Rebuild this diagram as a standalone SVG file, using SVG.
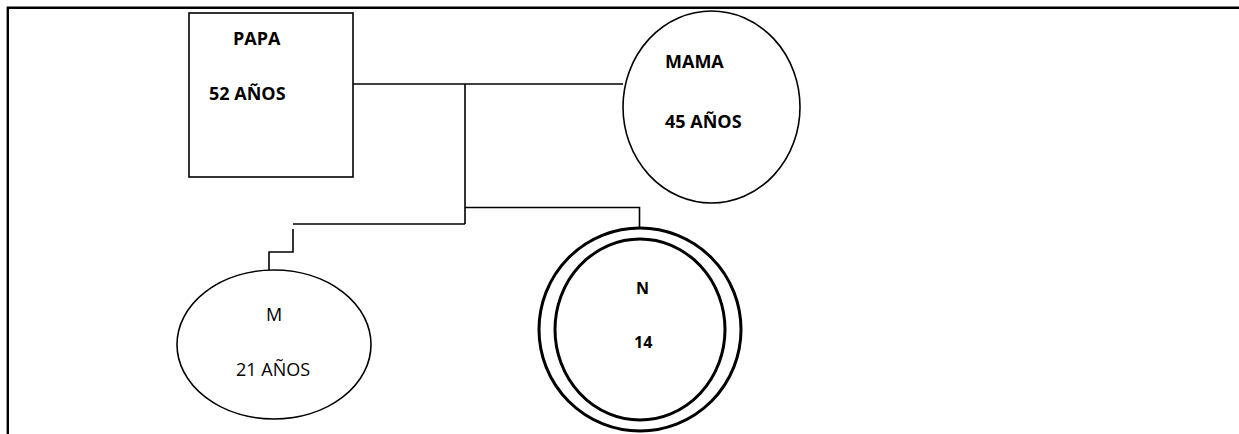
<svg xmlns="http://www.w3.org/2000/svg" width="1239" height="434" viewBox="0 0 1239 434">
<style>
.ln{fill:none;stroke:#000;stroke-width:1.6}
.sh{fill:#fff;stroke:#000;stroke-width:1.6}
.dbl{fill:#fff;stroke:#000;stroke-width:3}
.b{font-family:"Open Sans","Liberation Sans",sans-serif;font-weight:bold;font-size:18px;fill:#000}
.r{font-family:"Open Sans","Liberation Sans",sans-serif;font-size:18px;fill:#000}
.s{font-family:"Open Sans","Liberation Sans",sans-serif;font-weight:bold;font-size:16px;fill:#000}
</style>
<rect width="1239" height="434" fill="#fff"/>
<path d="M7.8 434 V7.8 H1239" fill="none" stroke="#000" stroke-width="2.4"/>
<g id="connectors">
<path class="ln" d="M353 84 H623"/>
<path class="ln" d="M465 84 V224"/>
<path class="ln" d="M465 207.5 H639.5 V228"/>
<path class="ln" d="M465 224 H293"/>
<path class="ln" d="M293 229 V252 H269 V270"/>
</g>
<g id="papa">
<rect class="sh" x="189" y="13" width="164" height="164"/>
<text class="b" x="233" y="45">PAPA</text>
<text class="b" x="209" y="100">52 AÑOS</text>
</g>
<g id="mama">
<ellipse class="sh" cx="711.5" cy="107" rx="88.5" ry="96"/>
<text class="b" x="665" y="68">MAMA</text>
<text class="b" x="665" y="128">45 AÑOS</text>
</g>
<g id="m">
<ellipse class="sh" cx="274" cy="344.5" rx="97" ry="74.5"/>
<text class="r" x="266" y="321">M</text>
<text class="r" x="236" y="376">21 AÑOS</text>
</g>
<g id="n">
<ellipse class="dbl" cx="640" cy="329.5" rx="101" ry="101.5"/>
<ellipse class="dbl" cx="640" cy="329.5" rx="85" ry="90.5"/>
<text class="s" x="636" y="294">N</text>
<text class="s" x="634" y="348">14</text>
</g>
</svg>
